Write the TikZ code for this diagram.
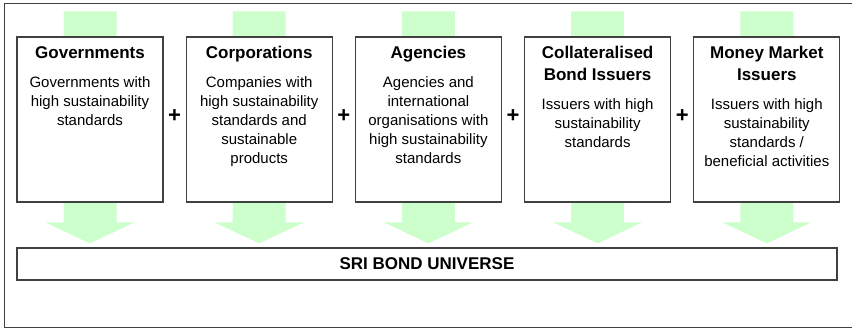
\documentclass[tikz,border=0pt]{standalone}
\usepackage{fontspec}
\setmainfont{Liberation Sans}
\usetikzlibrary{calc, positioning, backgrounds}
\definecolor{feedgreen}{HTML}{CCFFCC}
\definecolor{framegray}{HTML}{404040}
\tikzset{
    issuer/.style={draw=framegray,line width=1.2pt,fill=white,minimum width=146pt,minimum height=165pt,inner sep=0pt},
    issuertitle/.style={align=center,inner sep=0pt,font=\fontsize{17}{22}\selectfont\bfseries},
    issuertext/.style={align=center,inner sep=0pt,font=\fontsize{15}{19}\selectfont},
    plussign/.style={inner sep=0pt,font=\fontsize{22}{22}\selectfont\bfseries},
    universe/.style={draw=framegray,line width=1.2pt,minimum width=820pt,minimum height=32pt,font=\fontsize{17}{20}\selectfont\bfseries},
    feed/.style={fill=feedgreen}
}
\begin{document}
\begin{tikzpicture}[x=1pt,y=1pt]
            \useasboundingbox (0,0) rectangle (852,329);
            \draw[framegray,line width=0.8pt] (852,326)--(4,326)--(4,1.5)--(852,1.5);
            \node[issuer] (gov) at (90,209.5) {};
            \node[issuer,right=22pt of gov] (corp) {};
            \node[issuer,right=22pt of corp] (agency) {};
            \node[issuer,right=22pt of agency] (covered) {};
            \node[issuer,right=22pt of covered] (money) {};
            \node[issuertitle,below=10pt of gov.north] (govtitle) {Governments};
            \node[issuertitle,below=10pt of corp.north] (corptitle) {Corporations};
            \node[issuertitle,below=10pt of agency.north] (agencytitle) {Agencies};
            \node[issuertitle,below=10pt of covered.north] (coveredtitle) {Collateralised\\Bond Issuers};
            \node[issuertitle,below=10pt of money.north] (moneytitle) {Money Market\\Issuers};
            \node[issuertext,below=40pt of gov.north] (govtext) {Governments with\\high sustainability\\standards};
            \node[issuertext,below=40pt of corp.north] (corptext) {Companies with\\high sustainability\\standards and\\sustainable\\products};
            \node[issuertext,below=40pt of agency.north] (agencytext) {Agencies and\\international\\organisations with\\high sustainability\\standards};
            \node[issuertext,below=62pt of covered.north] (coveredtext) {Issuers with high\\sustainability\\standards};
            \node[issuertext,below=62pt of money.north] (moneytext) {Issuers with high\\sustainability\\standards /\\beneficial activities};
            \node[plussign] (plus1) at ($(gov.east)!0.5!(corp.west)+(0,3.5)$) {+};
            \node[plussign] (plus2) at ($(corp.east)!0.5!(agency.west)+(0,3.5)$) {+};
            \node[plussign] (plus3) at ($(agency.east)!0.5!(covered.west)+(0,3.5)$) {+};
            \node[plussign] (plus4) at ($(covered.east)!0.5!(money.west)+(0,3.5)$) {+};
            \node[universe] (sri) at (427,65) {SRI BOND UNIVERSE};
            \begin{scope}[on background layer]
                \fill[feed] ($(gov.north)+(-26.5,25)$)--++(53,0)--++(0,-211)--++(18,0)--++(-44.5,-21)--++(-44.5,21)--++(18,0)--cycle;
                \fill[feed] ($(corp.north)+(-26.5,25)$)--++(53,0)--++(0,-211)--++(18,0)--++(-44.5,-21)--++(-44.5,21)--++(18,0)--cycle;
                \fill[feed] ($(agency.north)+(-26.5,25)$)--++(53,0)--++(0,-211)--++(18,0)--++(-44.5,-21)--++(-44.5,21)--++(18,0)--cycle;
                \fill[feed] ($(covered.north)+(-26.5,25)$)--++(53,0)--++(0,-211)--++(18,0)--++(-44.5,-21)--++(-44.5,21)--++(18,0)--cycle;
                \fill[feed] ($(money.north)+(-26.5,25)$)--++(53,0)--++(0,-211)--++(18,0)--++(-44.5,-21)--++(-44.5,21)--++(18,0)--cycle;
            \end{scope}
        \end{tikzpicture}
\end{document}
